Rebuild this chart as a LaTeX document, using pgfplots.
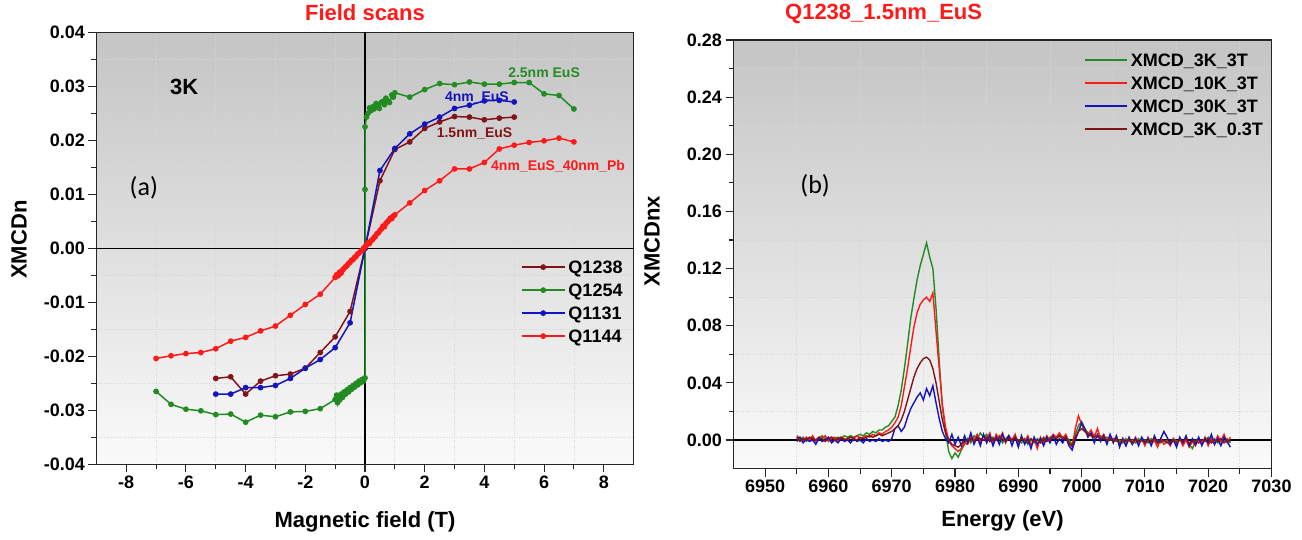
\documentclass[border=0pt]{standalone}
\usepackage{pgfplots}
\pgfplotsset{compat=1.18}
\usepackage{pgfplotstable}
\usepackage{fontspec}
\setmainfont{Liberation Sans}
\newfontfamily\calibri{Carlito}
\definecolor{cG}{RGB}{34,139,34}
\definecolor{cR}{RGB}{255,25,25}
\definecolor{cB}{RGB}{20,20,190}
\definecolor{cD}{RGB}{130,20,25}

\pgfplotstableread{
E g r b d
6955.0 0.001 0.003 -0.001 0.002
6955.5 0.000 0.001 0.002 -0.001
6956.0 0.002 -0.001 -0.002 0.001
6956.5 -0.001 0.002 0.001 0.000
6957.0 0.001 0.000 -0.001 0.002
6957.5 0.002 0.003 0.000 0.001
6958.0 0.000 -0.001 -0.003 0.000
6958.5 0.001 0.002 0.001 0.002
6959.0 0.003 0.001 -0.001 0.001
6959.5 0.001 0.003 0.000 -0.001
6960.0 0.000 -0.001 0.002 0.001
6960.5 0.002 0.001 -0.002 0.002
6961.0 0.001 0.002 0.000 0.000
6961.5 0.002 -0.001 -0.002 0.001
6962.0 0.001 0.002 0.001 0.002
6962.5 0.003 0.001 -0.001 0.000
6963.0 0.002 0.000 0.000 0.001
6963.5 0.003 0.002 -0.002 0.002
6964.0 0.002 0.001 0.001 0.001
6964.5 0.003 0.003 -0.001 0.000
6965.0 0.004 0.001 0.000 0.002
6965.5 0.003 0.002 -0.002 0.001
6966.0 0.005 0.003 0.001 0.002
6966.5 0.004 0.002 -0.001 0.003
6967.0 0.006 0.004 0.000 0.002
6967.5 0.005 0.003 -0.001 0.003
6968.0 0.007 0.005 0.001 0.004
6968.5 0.007 0.004 -0.001 0.003
6969.0 0.009 0.006 0.000 0.004
6969.5 0.010 0.007 -0.001 0.005
6970.0 0.013 0.009 0.001 0.006
6970.5 0.016 0.012 0.008 0.008
6971.0 0.024 0.016 0.010 0.010
6971.5 0.035 0.024 0.006 0.014
6972.0 0.050 0.037 0.009 0.020
6972.5 0.067 0.050 0.016 0.028
6973.0 0.085 0.065 0.022 0.036
6973.5 0.099 0.079 0.026 0.044
6974.0 0.112 0.089 0.030 0.050
6974.5 0.122 0.095 0.033 0.054
6975.0 0.130 0.098 0.028 0.057
6975.5 0.138 0.100 0.036 0.058
6976.0 0.128 0.097 0.031 0.056
6976.5 0.120 0.103 0.038 0.050
6977.0 0.092 0.076 0.026 0.040
6977.5 0.056 0.050 0.015 0.027
6978.0 0.023 0.025 0.006 0.014
6978.5 0.006 0.009 0.001 0.005
6979.0 -0.008 0.000 -0.002 0.000
6979.5 -0.013 -0.004 0.004 -0.003
6980.0 -0.009 -0.006 -0.003 -0.004
6980.5 -0.012 -0.008 0.002 -0.005
6981.0 -0.007 -0.006 -0.004 -0.003
6981.5 -0.003 -0.002 0.003 -0.001
6982.0 0.001 -0.003 -0.002 0.000
6982.5 -0.002 0.002 0.005 0.001
6983.0 0.003 0.000 -0.003 -0.001
6983.5 0.001 0.004 0.002 0.002
6984.0 0.005 -0.002 -0.004 0.001
6984.5 0.002 0.003 0.004 0.000
6985.0 0.004 0.001 -0.002 0.002
6985.5 -0.001 0.005 0.003 -0.001
6986.0 0.002 -0.003 -0.004 0.001
6986.5 0.000 0.004 0.002 0.000
6987.0 0.003 0.001 -0.003 0.002
6987.5 -0.002 0.005 0.004 0.001
6988.0 0.001 -0.002 -0.001 -0.001
6988.5 0.003 0.003 0.003 0.001
6989.0 -0.001 0.000 -0.004 0.000
6989.5 0.002 0.004 0.002 0.002
6990.0 0.000 -0.003 -0.005 -0.001
6990.5 -0.002 0.002 0.003 0.001
6991.0 0.001 -0.001 -0.003 0.000
6991.5 -0.003 0.003 0.001 -0.002
6992.0 0.000 -0.004 -0.006 0.001
6992.5 -0.002 0.001 0.002 -0.001
6993.0 0.001 -0.006 -0.003 0.000
6993.5 -0.001 0.002 0.001 -0.002
6994.0 0.002 -0.002 -0.004 0.001
6994.5 0.000 0.003 0.002 -0.001
6995.0 0.002 -0.001 -0.002 0.001
6995.5 0.003 0.004 0.003 0.002
6996.0 0.001 0.002 -0.003 0.001
6996.5 0.004 0.005 0.001 0.003
6997.0 0.002 0.001 -0.002 0.001
6997.5 0.003 0.004 0.002 0.002
6998.0 0.000 -0.002 -0.004 -0.002
6998.5 -0.003 -0.005 -0.007 -0.004
6999.0 0.004 0.008 0.000 0.002
6999.5 0.010 0.017 0.006 0.006
7000.0 0.013 0.011 0.012 0.008
7000.5 0.008 0.006 0.008 0.006
7001.0 0.005 0.004 0.002 0.004
7001.5 0.003 0.007 0.005 0.003
7002.0 0.004 0.002 -0.002 0.002
7002.5 0.002 0.008 0.004 0.003
7003.0 0.003 0.001 -0.001 0.001
7003.5 0.001 0.004 0.003 0.002
7004.0 0.002 -0.001 -0.003 0.000
7004.5 0.000 0.003 0.004 0.001
7005.0 0.001 0.000 -0.002 -0.001
7005.5 -0.001 0.002 0.003 0.001
7006.0 0.000 -0.003 -0.005 -0.002
7006.5 -0.002 0.001 0.001 0.000
7007.0 0.001 -0.004 -0.004 -0.001
7007.5 -0.001 0.001 0.002 0.001
7008.0 0.000 -0.003 -0.003 -0.002
7008.5 -0.002 0.002 0.001 0.000
7009.0 0.001 -0.002 -0.004 -0.001
7009.5 -0.001 0.001 0.002 0.000
7010.0 0.000 -0.004 -0.002 -0.002
7010.5 -0.002 0.002 0.001 0.000
7011.0 0.001 -0.003 -0.004 -0.001
7011.5 -0.001 0.000 0.003 0.001
7012.0 0.000 -0.005 -0.002 -0.002
7012.5 -0.002 0.001 0.001 -0.001
7013.0 -0.001 -0.003 0.006 0.000
7013.5 0.000 -0.001 0.002 -0.002
7014.0 -0.002 -0.004 -0.003 -0.001
7014.5 0.001 0.001 0.000 0.000
7015.0 -0.001 -0.003 -0.005 -0.002
7015.5 0.000 0.001 0.002 0.000
7016.0 -0.002 -0.004 -0.002 -0.001
7016.5 0.001 0.000 0.003 0.001
7017.0 -0.003 -0.005 -0.004 -0.002
7017.5 -0.006 -0.001 0.001 -0.001
7018.0 -0.001 -0.004 -0.003 0.000
7018.5 0.001 0.001 0.002 -0.002
7019.0 -0.002 -0.003 -0.004 0.000
7019.5 0.000 0.002 0.001 -0.001
7020.0 0.002 -0.004 -0.002 0.001
7020.5 -0.001 0.001 0.004 -0.002
7021.0 0.001 -0.003 -0.003 0.000
7021.5 -0.002 0.003 0.001 -0.001
7022.0 0.000 -0.001 -0.004 0.001
7022.5 -0.001 0.004 0.002 -0.002
7023.0 0.001 -0.002 -0.001 0.000
7023.5 -0.002 0.002 -0.005 -0.001
}\spectra

\pgfplotsset{
  myaxis/.style={
    scale only axis, anchor=south west,
    axis background/.style={top color=black!23, bottom color=white!98!black},
    axis line style={black!85, line width=1.2pt},
    tick align=outside, tick pos=left,
    major tick length=8pt, minor tick length=5pt,
    every tick/.style={black!85, line width=1.1pt},
    minor x tick num=1, minor y tick num=1,
    xminorgrids=true, yminorgrids=true,
    minor grid style={white!84!black, dotted, line width=0.8pt},
    scaled ticks=false,
    tick label style={font=\fontsize{18}{20}\selectfont\bfseries},
    /pgf/number format/assume math mode=true,
    label style={font=\fontsize{22}{24}\selectfont\bfseries},
    title style={font=\fontsize{22}{24}\selectfont\bfseries, text=cR, anchor=center},
    legend cell align=left,
    legend style={draw=none, fill=none, inner sep=0pt, row sep=3pt,
      font=\fontsize{18}{20}\selectfont\bfseries,
      nodes={inner sep=3pt, text height=13pt, text depth=1pt}},
  }
}

\begin{document}
\begin{tikzpicture}
\path[use as bounding box] (0pt,0pt) rectangle (1302pt,540pt);

% ---------------- left panel ----------------
\begin{axis}[myaxis, at={(96.4pt,75.7pt)}, width=537.2pt, height=432pt,
  xmin=-9, xmax=9, ymin=-0.04, ymax=0.04,
  xtick={-8,-6,-4,-2,0,2,4,6,8},
  ytick={-0.04,-0.03,-0.02,-0.01,0,0.01,0.02,0.03,0.04},
  yticklabel style={/pgf/number format/.cd, fixed, fixed zerofill, precision=2},
  xlabel={Magnetic field (T)}, ylabel={XMCDn},
  xlabel style={at={(axis description cs:0.5,-0.134)}, anchor=center},
  ylabel style={at={(axis description cs:-0.144,0.52)}, anchor=center},
  title={Field scans}, title style={at={(axis description cs:0.5,1.032)}},
  legend style={at={(axis description cs:0.79,0.48)}, anchor=north west},
  legend image code/.code={\draw[mark repeat=2,mark phase=2,#1] plot coordinates {(0pt,0pt) (21.5pt,0pt) (43pt,0pt)};},
  every axis plot/.append style={line width=1.5pt, mark=*, mark size=2.1pt},
]
\addplot[black, line width=1.2pt, mark=none, forget plot] coordinates {(-9,0) (9,0)};
\addplot[black, line width=1.2pt, mark=none, forget plot] coordinates {(0,-0.04) (0,0.04)};

\addplot[cD] coordinates {
(-5,-0.0241) (-4.5,-0.0238) (-4,-0.0270) (-3.5,-0.0246) (-3,-0.0236) (-2.5,-0.0233)
(-2,-0.0222) (-1.5,-0.0193) (-1,-0.0164) (-0.5,-0.0117) (0,0)
(0.5,0.0125) (1,0.0183) (1.5,0.0197) (2,0.0222) (2.5,0.0234) (3,0.0244)
(3.5,0.0243) (4,0.0238) (4.5,0.0241) (5,0.0243)};
\addlegendentry{Q1238}

\addplot[cG] coordinates {
(-7,-0.0265) (-6.5,-0.0289) (-6,-0.0298) (-5.5,-0.0301) (-5,-0.0308) (-4.5,-0.0307)
(-4,-0.0322) (-3.5,-0.0309) (-3,-0.0312) (-2.5,-0.0303) (-2,-0.0302) (-1.5,-0.0297)
(-1.0,-0.0280) (-0.95,-0.0272) (-0.92,-0.0286) (-0.88,-0.0275) (-0.85,-0.0281)
(-0.8,-0.0270) (-0.75,-0.0276) (-0.7,-0.0266) (-0.65,-0.0270) (-0.6,-0.0262)
(-0.55,-0.0266) (-0.5,-0.0258) (-0.45,-0.0261) (-0.4,-0.0254) (-0.35,-0.0257)
(-0.3,-0.0250) (-0.25,-0.0253) (-0.2,-0.0246) (-0.15,-0.0249) (-0.1,-0.0243)
(-0.05,-0.0246) (-0.02,-0.0241) (0,-0.0240) (0,0.0109) (0,0.0225)
(0.05,0.0243) (0.1,0.0250) (0.15,0.0260) (0.2,0.0255) (0.26,0.0262) (0.3,0.0258)
(0.37,0.0268) (0.42,0.0263) (0.48,0.0259) (0.54,0.0270) (0.6,0.0272) (0.65,0.0266)
(0.7,0.0278) (0.76,0.0273) (0.82,0.0270) (0.9,0.0284) (0.95,0.0280) (1.0,0.0288)
(1.5,0.0280) (2,0.0294) (2.5,0.0305) (3,0.0303) (3.5,0.0308) (4,0.0304)
(4.5,0.0304) (5,0.0307) (5.5,0.0307) (6,0.0286) (6.5,0.0283) (7,0.0258)};
\addlegendentry{Q1254}

\addplot[cB] coordinates {
(-5,-0.0270) (-4.5,-0.0270) (-4,-0.0258) (-3.5,-0.0258) (-3,-0.0254) (-2.5,-0.0241)
(-2,-0.0222) (-1.5,-0.0206) (-1,-0.0184) (-0.5,-0.0138) (0,0)
(0.5,0.0144) (1,0.0185) (1.5,0.0212) (2,0.0230) (2.5,0.0243) (3,0.0259)
(3.5,0.0265) (4,0.0273) (4.5,0.0274) (5,0.0271)};
\addlegendentry{Q1131}

\addplot[cR] coordinates {
(-7,-0.0204) (-6.5,-0.0199) (-6,-0.0195) (-5.5,-0.0193) (-5,-0.0186) (-4.5,-0.0172)
(-4,-0.0165) (-3.5,-0.0153) (-3,-0.0144) (-2.5,-0.0124) (-2,-0.0104) (-1.5,-0.0085)
(-1,-0.0054) (-0.95,-0.0049) (-0.9,-0.0051) (-0.85,-0.0044) (-0.8,-0.0046)
(-0.75,-0.0040) (-0.7,-0.0037) (-0.65,-0.0034) (-0.6,-0.0032) (-0.55,-0.0028)
(-0.5,-0.0026) (-0.45,-0.0022) (-0.4,-0.0021) (-0.35,-0.0017) (-0.3,-0.0015)
(-0.25,-0.0011) (-0.2,-0.0009) (-0.15,-0.0006) (-0.1,-0.0004) (-0.05,0.0000)
(0,0.0003) (0.05,0.0006) (0.1,0.0010) (0.15,0.0009) (0.2,0.0014) (0.25,0.0016)
(0.3,0.0020) (0.35,0.0022) (0.4,0.0027) (0.45,0.0029) (0.5,0.0033) (0.55,0.0036)
(0.6,0.0041) (0.65,0.0040) (0.7,0.0046) (0.75,0.0049) (0.8,0.0052) (0.85,0.0056)
(0.9,0.0055) (0.95,0.0060) (1.0,0.0062)
(1.5,0.0084) (2,0.0107) (2.5,0.0125) (3,0.0147) (3.5,0.0147) (4,0.0159)
(4.5,0.0184) (5,0.0191) (5.5,0.0196) (6,0.0199) (6.5,0.0204) (7,0.0197)};
\addlegendentry{Q1144}

\node[font=\fontsize{14}{16}\selectfont\bfseries, text=cG] at (axis cs:6.0,0.0325) {2.5nm EuS};
\node[font=\fontsize{14}{16}\selectfont\bfseries, text=cB] at (axis cs:3.75,0.0280) {4nm\_EuS};
\node[font=\fontsize{14}{16}\selectfont\bfseries, text=cD] at (axis cs:3.67,0.0213) {1.5nm\_EuS};
\node[font=\fontsize{14}{16}\selectfont\bfseries, text=cR] at (axis cs:6.47,0.0151) {4nm\_EuS\_40nm\_Pb};
\node[font=\fontsize{22}{24}\selectfont\bfseries] at (axis cs:-6.06,0.0298) {3K};
\node[font=\fontsize{26}{28}\selectfont\calibri] at (axis cs:-7.41,0.0112) {(a)};
\end{axis}

% ---------------- right panel ----------------
\begin{axis}[myaxis, at={(733.5pt,71.4pt)}, width=538pt, height=428.6pt,
  xmin=6945, xmax=7030, ymin=-0.02, ymax=0.28,
  xtick={6950,6960,6970,6980,6990,7000,7010,7020,7030},
  ytick={0,0.04,0.08,0.12,0.16,0.20,0.24,0.28},
  xticklabel style={/pgf/number format/1000 sep={}},
  yticklabel style={/pgf/number format/.cd, fixed, fixed zerofill, precision=2},
  xlabel={Energy (eV)}, ylabel={XMCDnx},
  xlabel style={at={(axis description cs:0.5,-0.122)}, anchor=center},
  ylabel style={at={(axis description cs:-0.1515,0.53)}, anchor=center},
  title={Q1238\_1.5nm\_EuS}, title style={at={(axis description cs:0.279,1.046)}},
  legend style={at={(axis description cs:0.651,0.976)}, anchor=north west},
  legend image code/.code={\draw[#1, line width=2pt] (0pt,0pt) -- (42pt,0pt);},
  every axis plot/.append style={line width=1.4pt, mark=none},
]
\addplot[black, line width=1.2pt, forget plot] coordinates {(6945,0) (7030,0)};
\addplot[cG] table[x=E, y=g] {\spectra};
\addlegendentry{XMCD\_3K\_3T}
\addplot[cR] table[x=E, y=r] {\spectra};
\addlegendentry{XMCD\_10K\_3T}
\addplot[cB] table[x=E, y=b] {\spectra};
\addlegendentry{XMCD\_30K\_3T}
\addplot[cD] table[x=E, y=d] {\spectra};
\addlegendentry{XMCD\_3K\_0.3T}
\node[font=\fontsize{26}{28}\selectfont\calibri] at (axis cs:6957.9,0.1777) {(b)};
\end{axis}
\end{tikzpicture}
\end{document}
